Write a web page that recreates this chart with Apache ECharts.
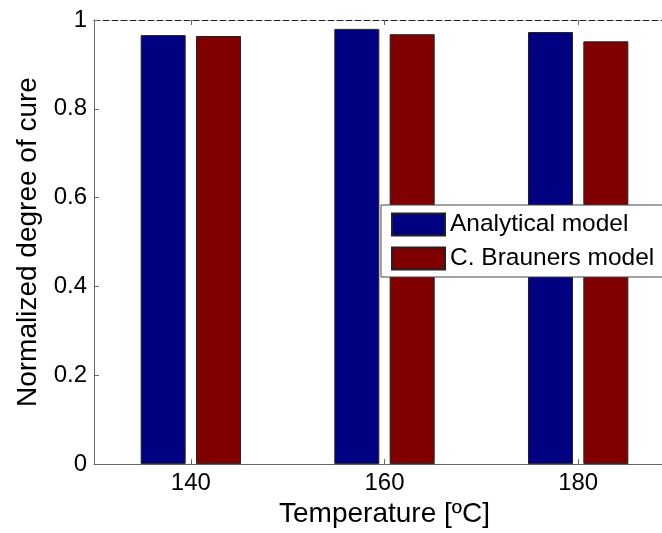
<!DOCTYPE html>
<html>
<head>
<meta charset="utf-8">
<title>Normalized degree of cure</title>
<script src="https://cdn.jsdelivr.net/npm/echarts@6/dist/echarts.min.js"></script>
<style>
  html, body { margin: 0; padding: 0; background: #fff; overflow: hidden; }
  #chart { width: 680px; height: 533px; }
</style>
</head>
<body>
<div id="chart"></div>
<script>
// Cure temperatures (x categories)
const temperatures = ['140', '160', '180'];
// Normalized degree of cure per model
const analyticalModel = [0.966, 0.980, 0.973];
const braunersModel = [0.964, 0.968, 0.952];
// Series names shown in the legend
const seriesNames = ['Analytical model', 'C. Brauners model'];

const FONT = "'Liberation Sans', Arial, Helvetica, sans-serif";
const AXIS_GREY = '#666';

const chart = echarts.init(document.getElementById('chart'), null, { renderer: 'canvas' });

chart.setOption({
  animation: false,
  backgroundColor: '#fff',
  textStyle: { fontFamily: FONT, color: '#000' },
  grid: { left: 94, right: 5, top: 20, bottom: 66, containLabel: false },
  legend: {
    data: seriesNames,
    orient: 'vertical',
    left: 381,
    top: 205,
    padding: [7, 10, 6, 10],
    itemWidth: 53,
    itemHeight: 22,
    itemGap: 9,
    backgroundColor: '#fff',
    borderColor: '#444',
    borderWidth: 1,
    borderRadius: 0,
    icon: 'rect',
    textStyle: { fontFamily: FONT, fontSize: 24.5, color: '#000', lineHeight: 22 }
  },
  xAxis: [
    {
      type: 'category',
      data: temperatures,
      position: 'bottom',
      boundaryGap: true,
      name: 'Temperature [ºC]',
      nameLocation: 'middle',
      nameGap: 33,
      nameTextStyle: { fontFamily: FONT, fontSize: 28, color: '#000' },
      axisLine: { show: true, lineStyle: { color: AXIS_GREY, width: 1 } },
      axisTick: { show: true, inside: true, alignWithLabel: true, length: 5, lineStyle: { color: AXIS_GREY } },
      axisLabel: { fontFamily: FONT, fontSize: 24, color: '#000', margin: 7 },
      splitLine: { show: false }
    },
    {
      type: 'category',
      data: temperatures,
      position: 'top',
      boundaryGap: true,
      axisLine: { show: true, lineStyle: { color: '#222', width: 1, type: [6, 3] } },
      axisTick: { show: true, inside: true, alignWithLabel: true, length: 5, lineStyle: { color: AXIS_GREY } },
      axisLabel: { show: false },
      splitLine: { show: false }
    }
  ],
  yAxis: {
    type: 'value',
    min: 0,
    max: 1,
    interval: 0.2,
    name: 'Normalized degree of cure',
    nameLocation: 'middle',
    nameRotate: 90,
    nameGap: 52,
    nameTextStyle: { fontFamily: FONT, fontSize: 28, color: '#000' },
    axisLine: { show: true, lineStyle: { color: AXIS_GREY, width: 1 } },
    axisTick: { show: true, inside: true, length: 5, lineStyle: { color: AXIS_GREY } },
    axisLabel: { fontFamily: FONT, fontSize: 24, color: '#000', margin: 7 },
    splitLine: { show: false }
  },
  series: [
    {
      name: seriesNames[0],
      type: 'bar',
      data: analyticalModel,
      barWidth: 45,
      barGap: '23%',
      itemStyle: { color: '#000080', borderColor: '#222', borderWidth: 1 }
    },
    {
      name: seriesNames[1],
      type: 'bar',
      data: braunersModel,
      barWidth: 45,
      barGap: '23%',
      itemStyle: { color: '#800000', borderColor: '#222', borderWidth: 1 }
    }
  ]
});
</script>
</body>
</html>
